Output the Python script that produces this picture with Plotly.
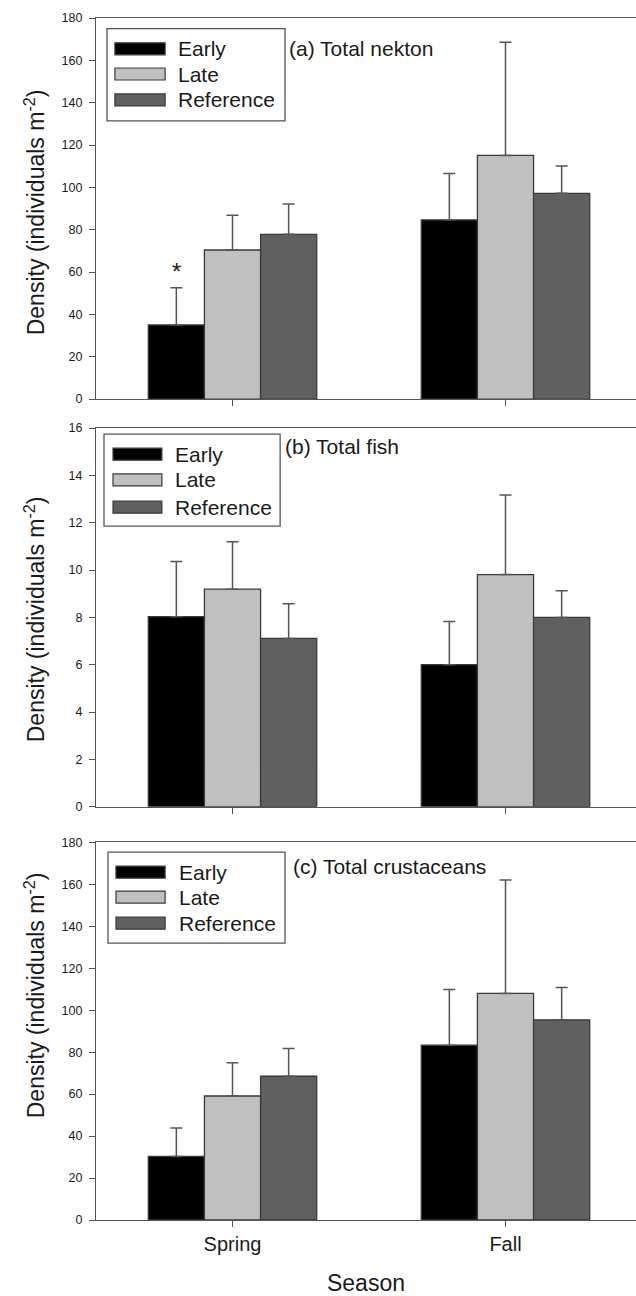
import plotly.graph_objects as go

# ---------------- data ----------------
seasons = ["Spring", "Fall"]
groups = ["Early", "Late", "Reference"]
group_colors = ["#000000", "#c0c0c0", "#606060"]

nekton_early = [35.0, 84.6]
nekton_late = [70.4, 115.1]
nekton_reference = [77.8, 97.2]
nekton_early_se = [17.6, 22.0]
nekton_late_se = [16.4, 53.4]
nekton_reference_se = [14.3, 12.9]

fish_early = [8.03, 6.0]
fish_late = [9.19, 9.81]
fish_reference = [7.11, 8.0]
fish_early_se = [2.33, 1.83]
fish_late_se = [2.0, 3.36]
fish_reference_se = [1.47, 1.13]

crust_early = [30.3, 83.3]
crust_late = [59.1, 108.0]
crust_reference = [68.5, 95.4]
crust_early_se = [13.5, 26.6]
crust_late_se = [15.9, 54.0]
crust_reference_se = [13.2, 15.4]

panel_titles = ["(a) Total nekton", "(b) Total fish", "(c) Total crustaceans"]
y_max = [180, 16, 180]
y_dtick = [20, 2, 20]
y_title = "Density (individuals m<sup>-2</sup>)"
x_title = "Season"

panels = [
    ([nekton_early, nekton_late, nekton_reference],
     [nekton_early_se, nekton_late_se, nekton_reference_se]),
    ([fish_early, fish_late, fish_reference],
     [fish_early_se, fish_late_se, fish_reference_se]),
    ([crust_early, crust_late, crust_reference],
     [crust_early_se, crust_late_se, crust_reference_se]),
]

# significance mark: panel a, Early, Spring
sig_panel, sig_group, sig_season, sig_text = 0, 0, 0, "*"

# ---------------- layout constants ----------------
W, H = 636, 1296
ML, MR, MT, MB = 96, 0, 18, 76
FONT = "Liberation Sans, Arial, Helvetica, sans-serif"
TXT = "#1a1a1a"
AX = "#555555"
BAR_LINE = "#3a3a3a"
ERR = "#555555"
BARGAP = 0.383

y_domains = [[0.6830, 1.0], [0.3438, 0.6589], [0.0, 0.3142]]
ytitle_pos = [0.49, 0.495, 0.595]
label_pos = [(0.354, 0.919), (0.346, 0.950), (0.361, 0.935)]
# legend boxes: (x0, x1, ytop, ybottom, swatch x0, swatch x1, text x, rows, panel px height)
legend_box = [
    (0.0204, 0.350, 0.972, 0.730, 0.035, 0.128, 0.148, [0.919, 0.853, 0.785], 381),
    (0.0148, 0.341, 0.984, 0.741, 0.0315, 0.122, 0.1426, [0.931, 0.863, 0.791], 379),
    (0.0222, 0.350, 0.974, 0.733, 0.037, 0.128, 0.150, [0.921, 0.855, 0.786], 377),
]

fig = go.Figure()

for p, (means, ses) in enumerate(panels):
    xa = "x" if p == 0 else f"x{p+1}"
    ya = "y" if p == 0 else f"y{p+1}"
    for g, name in enumerate(groups):
        fig.add_trace(go.Bar(
            x=seasons, y=means[g], name=name,
            xaxis=xa, yaxis=ya,
            marker=dict(color=group_colors[g], line=dict(color=BAR_LINE, width=1.3)),
            error_y=dict(type="data", symmetric=False, array=ses[g],
                         arrayminus=[0] * len(seasons),
                         color=ERR, thickness=1.5, width=6),
            showlegend=False,
        ))

shapes = []
annotations = []
for p in range(3):
    sfx = "" if p == 0 else str(p + 1)
    xkey, ykey = "xaxis" + sfx, "yaxis" + sfx
    last = (p == 2)
    xdict = dict(
        domain=[0, 1], anchor="y" + sfx, type="category",
        categoryorder="array", categoryarray=seasons,
        range=[-0.5, 1.478], showline=True, linecolor=AX, linewidth=1.3,
        mirror=True, ticks="outside", ticklen=6, tickcolor=AX, tickwidth=1.3,
        showgrid=False, zeroline=False,
        showticklabels=last,
        tickfont=dict(family=FONT, size=20, color=TXT),
    )
    if last:
        xdict["title"] = dict(text=x_title,
                              font=dict(family=FONT, size=23, color=TXT),
                              standoff=20)
    fig.layout[xkey] = xdict
    fig.layout[ykey] = dict(
        domain=y_domains[p], anchor="x" + sfx,
        range=[0, y_max[p]], dtick=y_dtick[p], tick0=0,
        showline=True, linecolor=AX, linewidth=1.3, mirror=False,
        ticks="outside", ticklen=6, tickcolor=AX, tickwidth=1.3,
        ticklabelstandoff=4,
        showgrid=False, zeroline=False,
        tickfont=dict(family=FONT, size=12.5, color=TXT),
    )
    yd = "y" + sfx + " domain"
    # y axis title
    annotations.append(dict(
        text=y_title, xref="paper", yref=yd, x=-0.113, y=ytitle_pos[p],
        xanchor="center", yanchor="middle", textangle=-90, showarrow=False,
        font=dict(family=FONT, size=23, color=TXT)))
    # panel label
    lx, ly = label_pos[p]
    annotations.append(dict(
        text=panel_titles[p], xref="paper", yref=yd, x=lx, y=ly,
        xanchor="left", yanchor="middle", showarrow=False,
        font=dict(family=FONT, size=21, color=TXT)))
    # legend
    bx0, bx1, byt, byb, sx0, sx1, tx, rows, ph = legend_box[p]
    shapes.append(dict(type="rect", xref="paper", yref=yd, x0=bx0, x1=bx1,
                       y0=byb, y1=byt, line=dict(color=AX, width=1.3),
                       fillcolor="rgba(0,0,0,0)"))
    half = 6.0 / ph
    for g, name in enumerate(groups):
        shapes.append(dict(type="rect", xref="paper", yref=yd, x0=sx0, x1=sx1,
                           y0=rows[g] - half, y1=rows[g] + half,
                           line=dict(color=BAR_LINE, width=1.2),
                           fillcolor=group_colors[g]))
        annotations.append(dict(
            text=name, xref="paper", yref=yd, x=tx, y=rows[g],
            xanchor="left", yanchor="middle", showarrow=False,
            font=dict(family=FONT, size=21, color=TXT)))

# significance asterisk above the Early/Spring bar of panel a
bar_w = (1 - BARGAP) / len(groups)
sig_x = sig_season + (sig_group - (len(groups) - 1) / 2) * bar_w
sig_means, sig_ses = panels[sig_panel]
sig_y = sig_means[sig_group][sig_season] + sig_ses[sig_group][sig_season]
annotations.append(dict(
    text=sig_text, xref="x", yref="y", x=sig_x, y=sig_y,
    xanchor="center", yanchor="bottom", yshift=1, showarrow=False,
    font=dict(family=FONT, size=24, color=TXT)))

fig.update_layout(
    width=W, height=H,
    margin=dict(l=ML, r=MR, t=MT, b=MB, pad=0),
    barmode="group", bargap=BARGAP, bargroupgap=0,
    plot_bgcolor="white", paper_bgcolor="white",
    showlegend=False,
    shapes=shapes, annotations=annotations,
    font=dict(family=FONT, color=TXT),
)

fig.write_html("out.html", config={"displayModeBar": False})
